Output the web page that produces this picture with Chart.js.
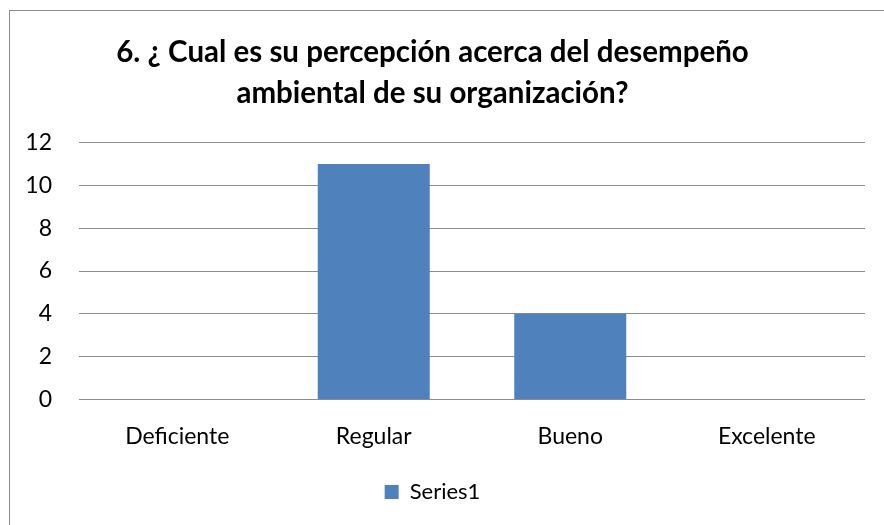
<!DOCTYPE html>
<html>
<head>
<meta charset="utf-8">
<script src="https://cdn.jsdelivr.net/npm/chart.js@4.4.0/dist/chart.umd.min.js"></script>
<style>
  body { margin: 0; background: #fff; }
  #wrap { position: relative; width: 884px; height: 525px; overflow: hidden; }
  #frame { position: absolute; left: 9px; top: 10px; width: 900px; height: 540px;
           border-left: 1px solid #8c8c8c; border-top: 1px solid #8c8c8c; }
  canvas { position: absolute; left: 0; top: 0; }
</style>
</head>
<body>
<div id="wrap">
  <div id="frame"></div>
  <canvas id="myChart" width="884" height="525"></canvas>
</div>
<script>
const categories = ['Deficiente', 'Regular', 'Bueno', 'Excelente'];
const series1 = [0, 11, 4, 0];
const titleLines = ['6. ¿ Cual es su percepción acerca del desempeño', 'ambiental de su organización?'];

const fontName = "Lato, 'Open Sans', sans-serif";

const ctx = document.getElementById('myChart').getContext('2d');
const myChart = new Chart(ctx, {
    type: 'bar',
    data: {
        labels: categories,
        datasets: [{
            label: 'Series1',
            data: series1,
            backgroundColor: '#4f81bd',
            borderWidth: 0,
            categoryPercentage: 0.57,
            barPercentage: 1
        }]
    },
    options: {
        responsive: false,
        animation: false,
        layout: { padding: { left: 0, right: 19, top: 18, bottom: 12 } },
        scales: {
            y: {
                min: 0,
                max: 12,
                ticks: { stepSize: 2, color: '#000', padding: 27, font: { family: fontName, size: 23 } },
                grid: { color: '#8c8c8c', drawTicks: false },
                border: { display: false },
                afterFit: function (scale) { scale.width = 79; }
            },
            x: {
                grid: { display: false },
                border: { display: false },
                ticks: { color: '#000', padding: 15, font: { family: fontName, size: 23 } }
            }
        },
        plugins: {
            title: {
                display: true,
                text: titleLines,
                color: '#000',
                font: { family: fontName, size: 29.5, weight: 'bold', lineHeight: 1.4 },
                padding: { top: 14, bottom: 28 }
            },
            legend: {
                display: true,
                position: 'bottom',
                labels: { color: '#000', boxWidth: 14, boxHeight: 14, font: { family: fontName, size: 22 }, padding: 16 }
            },
            tooltip: { enabled: false }
        }
    }
});
</script>
</body>
</html>
